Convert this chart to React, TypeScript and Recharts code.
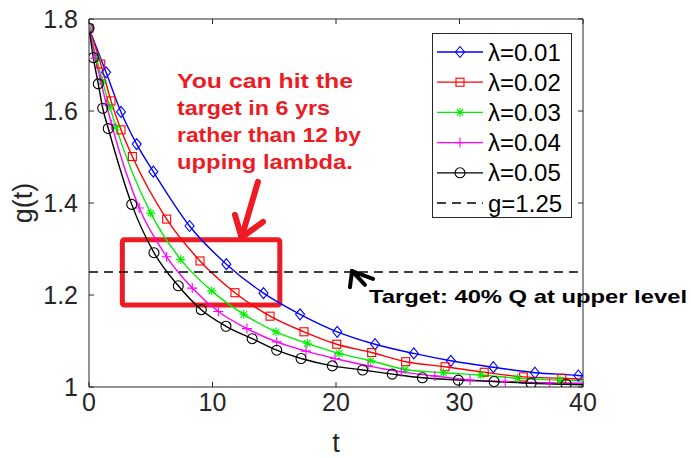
import { Legend, Line, LineChart, ReferenceArea, ReferenceLine, XAxis, YAxis } from 'recharts';

// values; each series ends with the plain line end at t = 40
const xTicks = [0, 10, 20, 30, 40];
const yTicks = [1, 1.2, 1.4, 1.6, 1.8];

const t01 = [0, 1.38, 2.59, 3.86, 5.21, 8.14, 11.12, 14.13, 17.09, 20.1, 23.16, 26.3, 29.3, 32.74, 36.11, 39.62, 40];
const g01 = [1.78, 1.684, 1.598, 1.528, 1.468, 1.35, 1.267, 1.204, 1.158, 1.12, 1.093, 1.073, 1.057, 1.043, 1.031, 1.025, 1.024];

const t02 = [0, 0.95, 1.78, 2.59, 3.51, 6.29, 8.99, 11.82, 14.66, 17.41, 20.06, 22.89, 25.64, 28.83, 32.0, 35.17, 38.28, 40];
const g02 = [1.78, 1.702, 1.622, 1.559, 1.501, 1.365, 1.274, 1.205, 1.154, 1.12, 1.093, 1.075, 1.055, 1.044, 1.032, 1.022, 1.019, 1.017];

const t03 = [0, 0.62, 1.09, 1.68, 2.19, 5.0, 7.43, 9.94, 12.53, 15.14, 17.68, 20.24, 22.81, 25.59, 28.7, 31.74, 34.7, 38.14, 40];
const g03 = [1.78, 1.713, 1.665, 1.61, 1.565, 1.378, 1.277, 1.209, 1.158, 1.12, 1.095, 1.073, 1.057, 1.038, 1.031, 1.026, 1.019, 1.015, 1.013];

const t04 = [0, 0.52, 0.92, 1.42, 1.84, 4.07, 6.29, 8.36, 10.47, 12.79, 15.2, 17.57, 19.92, 22.6, 25.3, 28.0, 30.85, 33.7, 37.3, 40];
const g04 = [1.78, 1.715, 1.668, 1.613, 1.57, 1.389, 1.283, 1.215, 1.164, 1.127, 1.098, 1.078, 1.062, 1.046, 1.033, 1.024, 1.015, 1.012, 1.009, 1.008];

const t05 = [0, 0.35, 0.75, 1.11, 1.56, 3.46, 5.26, 7.23, 9.09, 11.09, 13.21, 15.2, 17.17, 19.7, 22.16, 24.55, 26.99, 29.9, 32.8, 35.8, 38.63, 40];
const g05 = [1.78, 1.716, 1.659, 1.606, 1.562, 1.397, 1.292, 1.22, 1.168, 1.132, 1.105, 1.08, 1.062, 1.046, 1.037, 1.028, 1.02, 1.015, 1.012, 1.008, 1.006, 1.005];

const targetT = [0, 40];
const targetG = [1.25, 1.25];

const seriesNames = ['λ=0.01', 'λ=0.02', 'λ=0.03', 'λ=0.04', 'λ=0.05'];
const targetName = 'g=1.25';

const noteLines = ['You can hit the', 'target in 6 yrs', 'rather than 12 by', 'upping lambda.'];
const targetNote = 'Target: 40% Q at upper level';

const zip = (t: number[], g: number[]) => t.map((v, i) => ({ t: v, g: g[i] }));

const series = [
  { name: seriesNames[0], color: '#0000ff', marker: 'diamond', data: zip(t01, g01) },
  { name: seriesNames[1], color: '#ff0000', marker: 'square', data: zip(t02, g02) },
  { name: seriesNames[2], color: '#00ee00', marker: 'star', data: zip(t03, g03) },
  { name: seriesNames[3], color: '#ff00ff', marker: 'plus', data: zip(t04, g04) },
  { name: seriesNames[4], color: '#000000', marker: 'circle', data: zip(t05, g05) },
];

const AXIS = '#262626';
const NOTE_RED = '#ed1c24';
const FONT = '"Liberation Sans", Arial, Helvetica, sans-serif';
const TICK_T = 0.4; // ~5px inward tick, in t units
const TICK_G = 0.011; // ~5px inward tick, in g units

function Marker({ kind, cx, cy, color }: { kind: string; cx: number; cy: number; color: string }) {
  const common = { fill: 'none', stroke: color, strokeWidth: 1.1 };
  if (kind === 'diamond')
    return <path d={`M${cx},${cy - 5.5}L${cx + 4.5},${cy}L${cx},${cy + 5.5}L${cx - 4.5},${cy}Z`} {...common} />;
  if (kind === 'square') return <rect x={cx - 4} y={cy - 4} width={8} height={8} {...common} />;
  if (kind === 'star')
    return (
      <path
        d={`M${cx - 4.5},${cy}H${cx + 4.5}M${cx},${cy - 4.5}V${cy + 4.5}M${cx - 3.2},${cy - 3.2}L${cx + 3.2},${cy + 3.2}M${cx - 3.2},${cy + 3.2}L${cx + 3.2},${cy - 3.2}`}
        {...common}
      />
    );
  if (kind === 'plus') return <path d={`M${cx - 5},${cy}H${cx + 5}M${cx},${cy - 5}V${cy + 5}`} {...common} />;
  return <circle cx={cx} cy={cy} r={5} {...common} />;
}

const LegendBox = () => {
  const rows = [...series.map((s) => ({ name: s.name, color: s.color, marker: s.marker })), { name: targetName, color: '#000', marker: '' }];
  return (
    <div style={{ width: 140, height: 185, border: `1px solid ${AXIS}`, background: '#fff', boxSizing: 'border-box' }}>
      <svg width={138} height={183}>
        {rows.map((r, i) => {
          const y = 18 + i * 30.2;
          return (
            <g key={r.name}>
              <line x1={4} x2={50} y1={y} y2={y} stroke={r.color} strokeWidth={1.3} strokeDasharray={r.marker ? undefined : '9 6'} />
              {r.marker && <Marker kind={r.marker} cx={27} cy={y} color={r.color} />}
              <text x={55} y={y} dy="0.36em" fontSize={24} fontFamily={FONT} fill="#000">
                {r.name}
              </text>
            </g>
          );
        })}
      </svg>
    </div>
  );
};

export default function App() {
  return (
    <div style={{ position: 'absolute', left: 0, top: 0, width: 691, height: 458, background: '#fff' }}>
      <LineChart width={691} height={458} margin={{ top: 19, right: 108, bottom: 0, left: 0 }}>
        <XAxis
          type="number"
          dataKey="t"
          domain={[0, 40]}
          ticks={xTicks}
          allowDataOverflow
          height={71}
          tickLine={false}
          tickMargin={0}
          axisLine={{ stroke: AXIS }}
          tick={{ fill: AXIS, fontSize: 25, fontFamily: FONT }}
          label={{ value: 't', position: 'insideBottom', offset: 6, fill: AXIS, fontSize: 27, fontFamily: FONT }}
        />
        <YAxis
          type="number"
          dataKey="g"
          domain={[1, 1.8]}
          ticks={yTicks}
          allowDataOverflow
          width={89}
          tickLine={false}
          tickMargin={5}
          axisLine={{ stroke: AXIS }}
          tick={{ fill: AXIS, fontSize: 25, fontFamily: FONT }}
          label={{ value: 'g(t)', angle: -90, position: 'center', dx: -22, fill: AXIS, fontSize: 27, fontFamily: FONT }}
        />
        <ReferenceLine y={1.8} stroke={AXIS} />
        <ReferenceLine x={40} stroke={AXIS} />
        {xTicks.map((v) => (
          <ReferenceLine key={`xb${v}`} segment={[{ x: v, y: 1 }, { x: v, y: 1 + TICK_G }]} stroke={AXIS} />
        ))}
        {xTicks.map((v) => (
          <ReferenceLine key={`xt${v}`} segment={[{ x: v, y: 1.8 }, { x: v, y: 1.8 - TICK_G }]} stroke={AXIS} />
        ))}
        {yTicks.map((v) => (
          <ReferenceLine key={`yl${v}`} segment={[{ x: 0, y: v }, { x: TICK_T, y: v }]} stroke={AXIS} />
        ))}
        {yTicks.map((v) => (
          <ReferenceLine key={`yr${v}`} segment={[{ x: 40, y: v }, { x: 40 - TICK_T, y: v }]} stroke={AXIS} />
        ))}
        {series.map((s) => (
          <Line
            key={s.name}
            name={s.name}
            data={s.data}
            dataKey="g"
            type="monotone"
            stroke={s.color}
            strokeWidth={1.4}
            isAnimationActive={false}
            activeDot={false}
            dot={(p: any) =>
              p.index === s.data.length - 1 ? (
                <g key={`${s.name}-${p.index}`} />
              ) : (
                <Marker key={`${s.name}-${p.index}`} kind={s.marker} cx={p.cx} cy={p.cy} color={s.color} />
              )
            }
          />
        ))}
        <Line
          name={targetName}
          data={zip(targetT, targetG)}
          dataKey="g"
          stroke="#000"
          strokeWidth={1.4}
          strokeDasharray="9 6"
          dot={false}
          activeDot={false}
          isAnimationActive={false}
        />
        <ReferenceArea x1={2.7} x2={15.45} y1={1.178} y2={1.32} fill="none" fillOpacity={0} stroke={NOTE_RED} strokeWidth={5} radius={2} />
        <ReferenceLine segment={[{ x: 13.68, y: 1.446 }, { x: 12.35, y: 1.325 }]} stroke={NOTE_RED} strokeWidth={6} strokeLinecap="round" />
        <ReferenceLine segment={[{ x: 11.82, y: 1.374 }, { x: 12.35, y: 1.325 }]} stroke={NOTE_RED} strokeWidth={6} strokeLinecap="round" />
        <ReferenceLine segment={[{ x: 14.09, y: 1.359 }, { x: 12.35, y: 1.325 }]} stroke={NOTE_RED} strokeWidth={6} strokeLinecap="round" />
        <ReferenceLine segment={[{ x: 21.3, y: 1.252 }, { x: 22.35, y: 1.222 }]} stroke="#000" strokeWidth={4} strokeLinecap="round" />
        <ReferenceLine segment={[{ x: 21.3, y: 1.252 }, { x: 21.13, y: 1.217 }]} stroke="#000" strokeWidth={4} strokeLinecap="round" />
        <ReferenceLine segment={[{ x: 21.3, y: 1.252 }, { x: 23.0, y: 1.235 }]} stroke="#000" strokeWidth={4} strokeLinecap="round" />
        <Legend
          layout="vertical"
          align="center"
          verticalAlign="middle"
          content={<LegendBox />}
          wrapperStyle={{ left: 432, top: 33, width: 140, height: 185 }}
        />
      </LineChart>
      <svg width={691} height={458} style={{ position: 'absolute', left: 0, top: 0, pointerEvents: 'none' }}>
        {noteLines.map((line, i) => (
          <text
            key={line}
            x={177}
            y={88 + i * 27}
            fontSize={21}
            fontWeight="bold"
            fontFamily={FONT}
            fill={NOTE_RED}
            textLength={[176, 153, 184, 176][i]}
            lengthAdjust="spacingAndGlyphs"
          >
            {line}
          </text>
        ))}
        <text x={369} y={303} fontSize={19} fontWeight="bold" fontFamily={FONT} fill="#000" textLength={318} lengthAdjust="spacingAndGlyphs">
          {targetNote}
        </text>
      </svg>
    </div>
  );
}
